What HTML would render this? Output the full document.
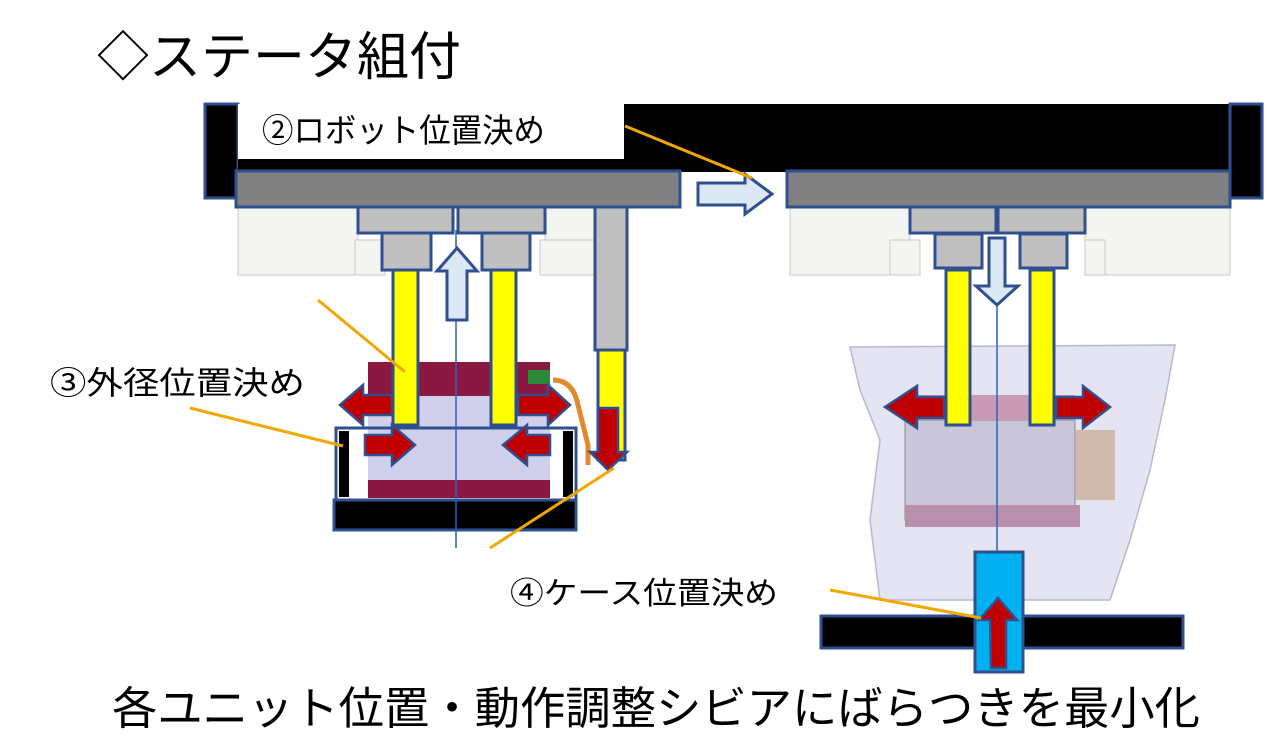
<!DOCTYPE html>
<html><head><meta charset="utf-8"><style>
html,body{margin:0;padding:0;background:#fff;width:1280px;height:756px;overflow:hidden}
svg{display:block}
text{font-family:"Liberation Sans","Noto Sans CJK JP",sans-serif;fill:#000}
</style></head><body>
<svg width="1280" height="756" viewBox="0 0 1280 756" xmlns="http://www.w3.org/2000/svg">
<rect width="1280" height="756" fill="#fff"/>
<text x="97" y="75" font-size="52" textLength="364" lengthAdjust="spacingAndGlyphs">◇ステータ組付</text>

<g stroke="#c8c8c8" fill="#f4f4f0" stroke-width="1">
<rect x="238" y="207" width="120" height="68"/><rect x="545" y="207" width="50" height="68"/>
<rect x="355" y="240" width="30" height="35"/><rect x="540" y="240" width="55" height="35"/>
<rect x="790" y="207" width="120" height="68"/><rect x="1085" y="207" width="145" height="68"/>
<rect x="890" y="240" width="30" height="35"/><rect x="1085" y="240" width="20" height="35"/>
</g>

<rect x="205" y="104" width="33" height="94" fill="#000" stroke="#2f4f8f" stroke-width="3"/>
<rect x="238" y="104" width="992" height="68" fill="#000"/>
<rect x="238" y="104" width="386" height="55" fill="#fff"/>
<rect x="1230" y="104" width="32" height="94" fill="#000" stroke="#2f4f8f" stroke-width="3"/>
<text x="262" y="142" font-size="33" textLength="283" lengthAdjust="spacingAndGlyphs">②ロボット位置決め</text>
<rect x="236" y="171" width="444" height="36" fill="#808080" stroke="#2f4f8f" stroke-width="3"/>
<rect x="787" y="171" width="443" height="36" fill="#808080" stroke="#2f4f8f" stroke-width="3"/>
<polygon points="698,183 745,183 745,174 772,194 745,214 745,205 698,205" fill="#dce8f4" stroke="#2f4f8f" stroke-width="3"/>

<rect x="368" y="362" width="182" height="34" fill="#8a1840"/>
<rect x="368" y="396" width="182" height="84" fill="#d0d0ec"/>
<rect x="368" y="480" width="182" height="18" fill="#8a1840"/>
<path d="M553 380 q20 0 25 25 q5 20 10 40 l0 20" stroke="#e08a30" stroke-width="5" fill="none"/>
<rect x="528" y="370" width="22" height="14" fill="#2a8a3a"/>
<rect x="336" y="428" width="240" height="72" fill="none" stroke="#2f4f8f" stroke-width="3"/>
<rect x="339" y="431" width="10" height="66" fill="#000"/>
<rect x="563" y="431" width="10" height="66" fill="#000"/>
<rect x="334" y="500" width="242" height="30" fill="#000" stroke="#2f4f8f" stroke-width="3"/>
<rect x="358" y="207" width="95" height="26" fill="#c0c0c0" stroke="#2f4f8f" stroke-width="3"/>
<rect x="458" y="207" width="87" height="26" fill="#c0c0c0" stroke="#2f4f8f" stroke-width="3"/>
<rect x="382" y="233" width="49" height="37" fill="#c0c0c0" stroke="#2f4f8f" stroke-width="3"/>
<rect x="482" y="233" width="48" height="37" fill="#c0c0c0" stroke="#2f4f8f" stroke-width="3"/>
<rect x="393" y="270" width="25" height="155" fill="#ffff00" stroke="#2f4f8f" stroke-width="3"/>
<rect x="491" y="270" width="25" height="155" fill="#ffff00" stroke="#2f4f8f" stroke-width="3"/>
<line x1="456" y1="230" x2="456" y2="548" stroke="#3060c0" stroke-width="1.5"/>
<polygon points="447,320 447,271 437,271 457,248 477,271 467,271 467,320" fill="#dce8f4" stroke="#2f4f8f" stroke-width="3"/>
<rect x="595" y="207" width="32" height="143" fill="#c0c0c0" stroke="#2f4f8f" stroke-width="3"/>
<rect x="598" y="350" width="27" height="110" fill="#ffff00" stroke="#2f4f8f" stroke-width="3"/>
<polygon points="598,408 618,408 618,452 627,452 608,470 590,452 598,452" fill="#c00000" stroke="#2f4f8f" stroke-width="2.5"/>
<polygon points="392,395 363,395 363,385 340,405 363,425 363,415 392,415" fill="#c00000" stroke="#2f4f8f" stroke-width="2.5"/>
<polygon points="518,395 548,395 548,385 570,405 548,425 548,415 518,415" fill="#c00000" stroke="#2f4f8f" stroke-width="2.5"/>
<polygon points="365,435 392,435 392,425 415,445 392,465 392,455 365,455" fill="#c00000" stroke="#2f4f8f" stroke-width="2.5"/>
<polygon points="550,435 527,435 527,425 503,445 527,465 527,455 550,455" fill="#c00000" stroke="#2f4f8f" stroke-width="2.5"/>

<path d="M850 347 L1175 345 L1165 400 L1150 470 L1130 540 L1110 600 L880 600 L870 520 L880 440 L860 390 Z" fill="#e4e4f2" stroke="#b8b8cc" stroke-width="1.5"/>
<rect x="905" y="420" width="170" height="100" fill="#c8c6d8" stroke="#888" stroke-width="1"/>
<rect x="905" y="395" width="170" height="25" fill="#c89ab4"/>
<rect x="905" y="505" width="175" height="22" fill="#b890ac"/>
<rect x="1075" y="430" width="40" height="70" fill="#c8a890" opacity="0.7"/>
<rect x="910" y="207" width="86" height="26" fill="#c0c0c0" stroke="#2f4f8f" stroke-width="3"/>
<rect x="998" y="207" width="87" height="26" fill="#c0c0c0" stroke="#2f4f8f" stroke-width="3"/>
<rect x="935" y="234" width="47" height="34" fill="#c0c0c0" stroke="#2f4f8f" stroke-width="3"/>
<rect x="1020" y="234" width="47" height="34" fill="#c0c0c0" stroke="#2f4f8f" stroke-width="3"/>
<rect x="946" y="270" width="24" height="155" fill="#ffff00" stroke="#2f4f8f" stroke-width="3"/>
<rect x="1030" y="270" width="24" height="155" fill="#ffff00" stroke="#2f4f8f" stroke-width="3"/>
<line x1="997" y1="238" x2="997" y2="552" stroke="#3060c0" stroke-width="1.5"/>
<polygon points="989,238 1005,238 1005,286 1018,286 997,305 976,286 989,286" fill="#dce8f4" stroke="#2f4f8f" stroke-width="3"/>
<polygon points="944,397 917,397 917,386 885,407 917,428 917,418 944,418" fill="#c00000" stroke="#2f4f8f" stroke-width="2.5"/>
<polygon points="1056,397 1083,397 1083,386 1110,407 1083,428 1083,418 1056,418" fill="#c00000" stroke="#2f4f8f" stroke-width="2.5"/>
<rect x="821" y="616" width="362" height="32" fill="#000" stroke="#2f4f8f" stroke-width="3"/>
<rect x="975" y="552" width="48" height="120" fill="#00b0f0" stroke="#2f4f8f" stroke-width="3"/>
<polygon points="991,668 1006,668 1006,620 1017,620 998,598 979,620 990,620" fill="#c00000" stroke="#2f4f8f" stroke-width="2.5"/>

<g stroke="#f0a800" stroke-width="3">
<line x1="625" y1="126" x2="752" y2="178"/>
<line x1="318" y1="300" x2="405" y2="372"/>
<line x1="190" y1="408" x2="343" y2="446"/>
<line x1="490" y1="548" x2="614" y2="468"/>
<line x1="830" y1="590" x2="981" y2="618"/>
</g>
<text x="50" y="394" font-size="32" textLength="255" lengthAdjust="spacingAndGlyphs">③外径位置決め</text>
<text x="510" y="604" font-size="31" textLength="268" lengthAdjust="spacingAndGlyphs">④ケース位置決め</text>
<text x="112" y="724" font-size="45" textLength="1088" lengthAdjust="spacingAndGlyphs">各ユニット位置・動作調整シビアにばらつきを最小化</text>
</svg>
</body></html>
